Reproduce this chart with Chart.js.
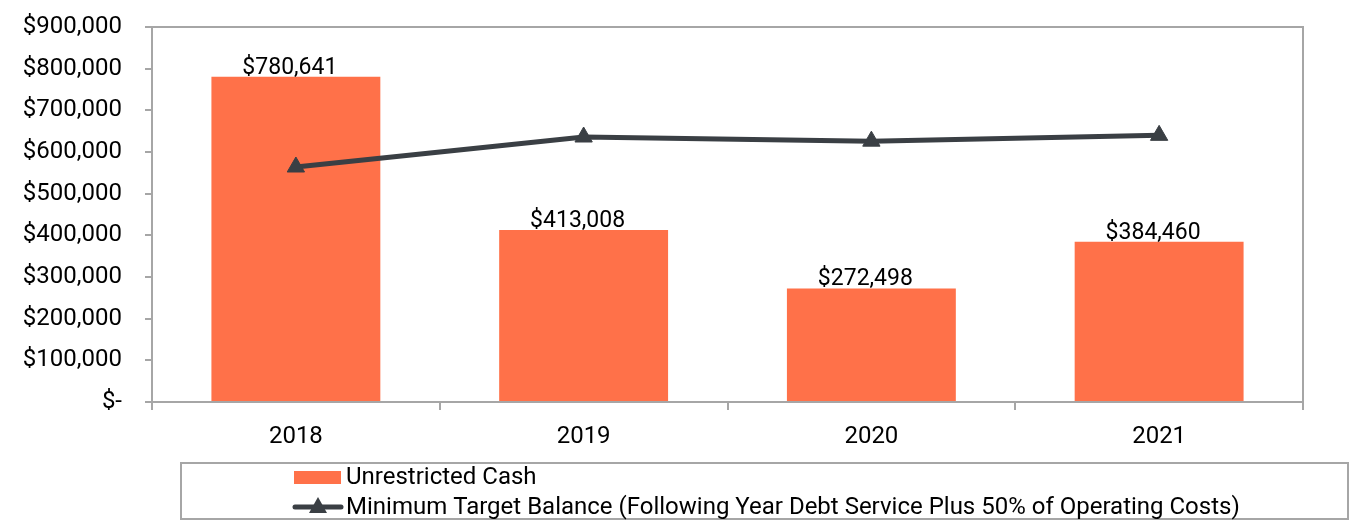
<!DOCTYPE html>
<html>
<head>
<meta charset="utf-8">
<script src="https://cdn.jsdelivr.net/npm/chart.js@4"></script>
<style>
  html, body { margin: 0; padding: 0; background: #ffffff; }
  #wrap { width: 1357px; height: 528px; position: relative; }
</style>
</head>
<body>
<div id="wrap"><canvas id="c" width="1357" height="528"></canvas></div>
<script>
const categories = ['2018', '2019', '2020', '2021'];
const unrestrictedCash = [780641, 413008, 272498, 384460];
const minimumTarget = [564000, 636000, 626000, 640000];
const yTickValues = [0, 100000, 200000, 300000, 400000, 500000, 600000, 700000, 800000, 900000];
const seriesLabels = ['Unrestricted Cash', 'Minimum Target Balance (Following Year Debt Service Plus 50% of Operating Costs)'];

const FONT = 'Roboto, "Liberation Sans", sans-serif';
const FSIZE = 24;
const BAR_COLOR = '#FF7149';
const LINE_COLOR = '#3a3f44';
const AXIS_COLOR = '#a6a6a6';

function money(v) {
  if (v === 0) return '$-';
  return '$' + v.toLocaleString('en-US');
}

const framePlugin = {
  id: 'frame',
  beforeDatasetsDraw(chart) {
    const { ctx, chartArea: a } = chart;
    ctx.save();
    ctx.strokeStyle = AXIS_COLOR;
    ctx.lineWidth = 2;
    ctx.beginPath();
    ctx.moveTo(a.left, a.top);
    ctx.lineTo(a.right, a.top);
    ctx.lineTo(a.right, a.bottom);
    ctx.stroke();
    ctx.restore();
  }
};

const barLabelPlugin = {
  id: 'barLabels',
  afterDatasetsDraw(chart) {
    const { ctx } = chart;
    const meta = chart.getDatasetMeta(1);
    ctx.save();
    ctx.font = '23px ' + FONT;
    ctx.fillStyle = '#000000';
    ctx.textAlign = 'center';
    ctx.textBaseline = 'alphabetic';
    meta.data.forEach((el, i) => {
      ctx.fillText(money(chart.data.datasets[1].data[i]), el.x - 6, el.y - 3);
    });
    ctx.restore();
  }
};

const legendPlugin = {
  id: 'boxLegend',
  afterDraw(chart) {
    const { ctx } = chart;
    ctx.save();
    ctx.strokeStyle = AXIS_COLOR;
    ctx.lineWidth = 2;
    ctx.strokeRect(181, 463, 1348 - 181, 56);
    ctx.font = FSIZE + 'px ' + FONT;
    ctx.textAlign = 'left';
    ctx.textBaseline = 'middle';
    // bar item
    ctx.fillStyle = BAR_COLOR;
    ctx.fillRect(294, 471, 47, 13);
    ctx.fillStyle = '#000000';
    ctx.fillText(chart.data.datasets[1].label, 346, 478);
    // line item
    ctx.strokeStyle = LINE_COLOR;
    ctx.lineWidth = 5;
    ctx.lineCap = 'round';
    ctx.beginPath();
    ctx.moveTo(295, 507);
    ctx.lineTo(341, 507);
    ctx.stroke();
    ctx.fillStyle = LINE_COLOR;
    ctx.beginPath();
    ctx.moveTo(318, 497);
    ctx.lineTo(327, 513);
    ctx.lineTo(309, 513);
    ctx.closePath();
    ctx.fill();
    ctx.fillStyle = '#000000';
    ctx.fillText(chart.data.datasets[0].label, 346, 508);
    ctx.restore();
  }
};

new Chart(document.getElementById('c'), {
  data: {
    labels: categories,
    datasets: [
      {
        type: 'line',
        label: seriesLabels[1],
        data: minimumTarget,
        borderColor: LINE_COLOR,
        backgroundColor: LINE_COLOR,
        borderWidth: 5,
        pointStyle: 'triangle',
        pointRadius: 10,
        pointHoverRadius: 10,
        pointBackgroundColor: LINE_COLOR,
        pointBorderColor: LINE_COLOR,
        pointBorderWidth: 1,
        tension: 0,
        order: 0
      },
      {
        type: 'bar',
        label: seriesLabels[0],
        data: unrestrictedCash,
        backgroundColor: BAR_COLOR,
        borderWidth: 0,
        categoryPercentage: 1.0,
        barPercentage: 0.587,
        order: 1
      }
    ]
  },
  options: {
    responsive: false,
    animation: false,
    devicePixelRatio: 1,
    layout: { padding: { top: 27, right: 54, left: 0, bottom: 0 } },
    plugins: {
      legend: { display: false },
      tooltip: { enabled: false }
    },
    scales: {
      x: {
        type: 'category',
        offset: true,
        grid: {
          offset: true,
          drawOnChartArea: false,
          drawTicks: true,
          tickLength: 8,
          color: AXIS_COLOR,
          lineWidth: 2
        },
        border: { display: true, color: AXIS_COLOR, width: 2 },
        ticks: {
          color: '#000000',
          font: { family: FONT, size: FSIZE },
          padding: 13,
          maxRotation: 0
        },
        afterFit(scale) {
          scale.height = 126;
          scale.paddingLeft = 0; scale.paddingRight = 0;
        }
      },
      y: {
        min: 0,
        max: 900000,
        grid: {
          drawOnChartArea: false,
          drawTicks: true,
          tickLength: 7,
          color: AXIS_COLOR,
          lineWidth: 2
        },
        border: { display: true, color: AXIS_COLOR, width: 2 },
        afterBuildTicks(scale) {
          scale.ticks = yTickValues.map(v => ({ value: v }));
        },
        ticks: {
          color: '#000000',
          font: { family: FONT, size: FSIZE },
          padding: 23,
          callback: (v) => money(v)
        },
        afterFit(scale) {
          scale.width = 152;
          scale.paddingTop = 0; scale.paddingBottom = 0;
        }
      }
    }
  },
  plugins: [framePlugin, barLabelPlugin, legendPlugin]
});
</script>
</body>
</html>
